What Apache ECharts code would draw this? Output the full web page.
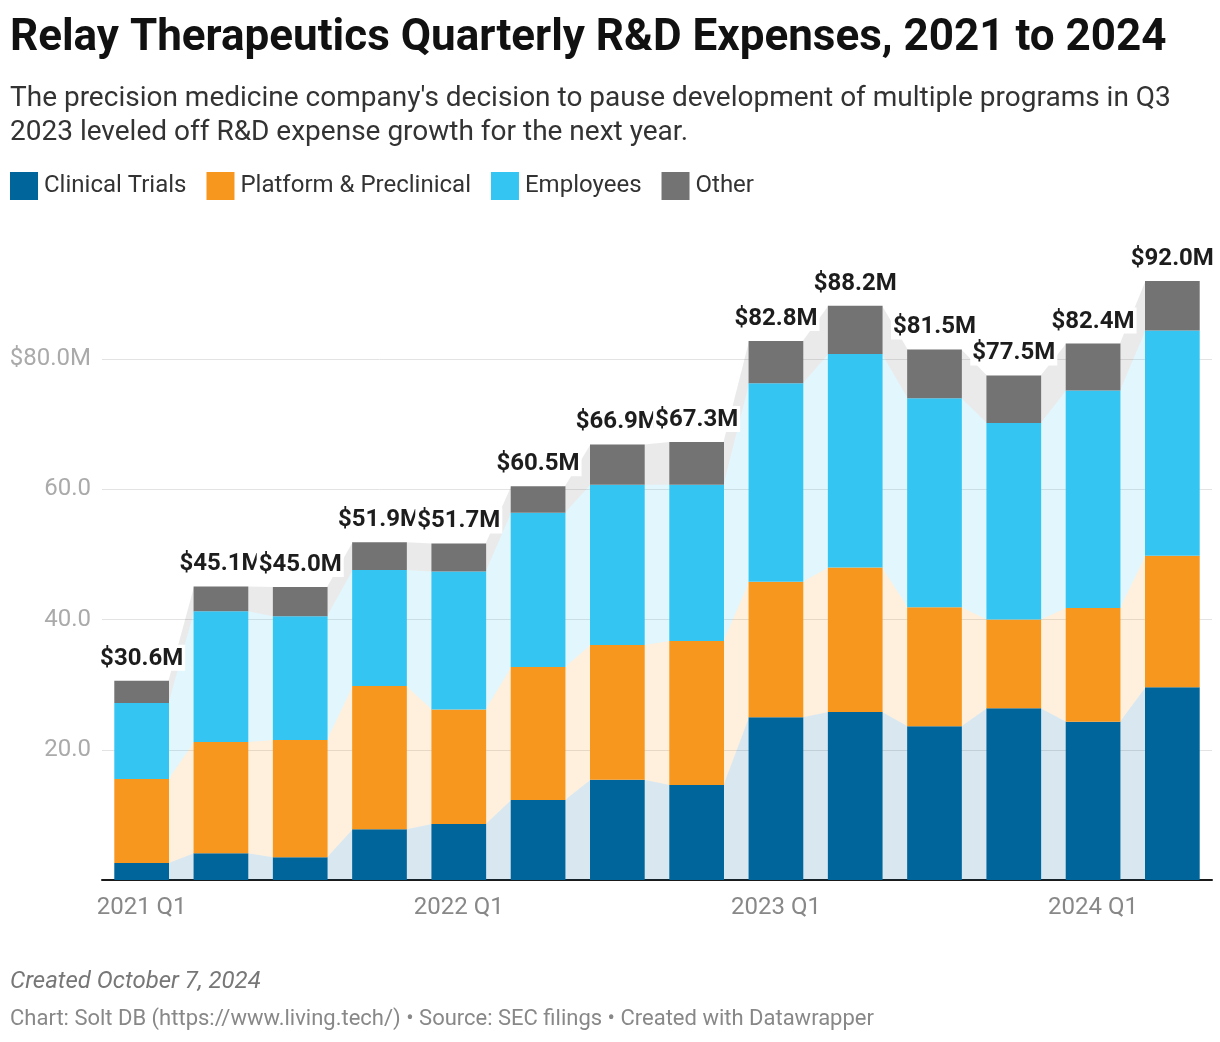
<!DOCTYPE html>
<html><head><meta charset="utf-8">
<script src="https://cdn.jsdelivr.net/npm/echarts@6/dist/echarts.min.js"></script>
<style>html,body{margin:0;padding:0;background:#fff}#c{width:1220px;height:1042px}</style>
</head><body><div id="c"></div>
<script>
// ---- Data (USD millions) ----
const quarters = ['2021 Q1','2021 Q2','2021 Q3','2021 Q4','2022 Q1','2022 Q2','2022 Q3','2022 Q4','2023 Q1','2023 Q2','2023 Q3','2023 Q4','2024 Q1','2024 Q2'];
const clinicalTrials = [2.6, 4.1, 3.5, 7.8, 8.6, 12.3, 15.4, 14.6, 25.0, 25.8, 23.6, 26.4, 24.3, 29.6];
const platformPreclinical = [12.9, 17.1, 18.0, 22.0, 17.6, 20.4, 20.7, 22.1, 20.8, 22.2, 18.3, 13.6, 17.5, 20.2];
const employees = [11.7, 20.1, 19.0, 17.8, 21.2, 23.7, 24.6, 24.0, 30.5, 32.8, 32.1, 30.2, 33.4, 34.6];
const other = [3.4, 3.8, 4.5, 4.3, 4.3, 4.1, 6.2, 6.6, 6.5, 7.4, 7.5, 7.3, 7.2, 7.6];
const seriesNames = ['Clinical Trials', 'Platform & Preclinical', 'Employees', 'Other'];
const yTicks = [0, 20, 40, 60, 80, 100];

const colors = ['#00659a', '#f7971e', '#34c5f3', '#737373'];
const layers = [clinicalTrials, platformPreclinical, employees, other];
const totals = quarters.map((q, i) => layers.reduce((s, l) => s + l[i], 0));
const BAR_RATIO = 0.69;

const chart = echarts.init(document.getElementById('c'), null, {renderer: 'canvas'});

const barSeries = seriesNames.map((name, k) => ({
  name: name,
  type: 'bar',
  stack: 'total',
  barWidth: (BAR_RATIO * 100) + '%',
  z: 3,
  itemStyle: {color: colors[k]},
  emphasis: {disabled: true},
  data: layers[k],
  label: k === layers.length - 1 ? {
    show: true,
    position: 'top',
    distance: 10,
    formatter: p => '$' + totals[p.dataIndex].toFixed(1) + 'M',
    fontFamily: 'Roboto',
    fontSize: 24,
    fontWeight: 'bold',
    color: '#1d1d1d',
    backgroundColor: '#ffffff',
    padding: [2, 2, 0, 2]
  } : {show: false}
}));

const bandSeries = {
  type: 'custom',
  name: 'bands',
  z: 1,
  silent: true,
  encode: {x: 0, y: 1},
  data: quarters.slice(0, -1).map((q, i) => [i, 0]),
  renderItem: function (params, api) {
    const i = api.value(0);
    const bw = api.size([1, 0])[0];
    const half = bw * BAR_RATIO / 2;
    const xa = api.coord([i, 0])[0] + half - 0.5;
    const xb = api.coord([i + 1, 0])[0] - half + 0.5;
    const children = [];
    let lo0 = 0, lo1 = 0;
    for (let s = 0; s < layers.length; s++) {
      const hi0 = lo0 + layers[s][i];
      const hi1 = lo1 + layers[s][i + 1];
      const y = v => api.coord([i, v])[1];
      children.push({
        type: 'polygon',
        shape: {points: [[xa, y(lo0)], [xa, y(hi0)], [xb, y(hi1)], [xb, y(lo1)]]},
        style: {fill: colors[s], opacity: 0.15}
      });
      lo0 = hi0; lo1 = hi1;
    }
    return {type: 'group', children: children};
  }
};

chart.setOption({
  animation: false,
  backgroundColor: '#ffffff',
  textStyle: {fontFamily: 'Roboto'},
  title: [{
    text: 'Relay Therapeutics Quarterly R&D Expenses, 2021 to 2024',
    left: 10, top: 13, padding: 0,
    textStyle: {fontFamily: 'Roboto', fontSize: 44, fontWeight: 'bold', color: '#111111', lineHeight: 52}
  }, {
    text: "The precision medicine company's decision to pause development of multiple programs in Q3\n2023 leveled off R&D expense growth for the next year.",
    left: 10, top: 82, padding: 0,
    textStyle: {fontFamily: 'Roboto', fontSize: 28, fontWeight: 'normal', color: '#333333', lineHeight: 34}
  }, {
    text: 'Created October 7, 2024',
    left: 10, top: 968, padding: 0,
    textStyle: {fontFamily: 'Roboto', fontSize: 24, fontStyle: 'italic', fontWeight: 'normal', color: '#777777', lineHeight: 28}
  }, {
    text: 'Chart: Solt DB (https://www.living.tech/) \u2022 Source: SEC filings \u2022 Created with Datawrapper',
    left: 10, top: 1006, padding: 0,
    textStyle: {fontFamily: 'Roboto', fontSize: 22, fontWeight: 'normal', color: '#888888', lineHeight: 26}
  }],
  legend: {
    data: seriesNames,
    left: 10, top: 172, padding: 0,
    icon: 'rect', itemWidth: 28, itemHeight: 28, itemGap: 20,
    selectedMode: false,
    textStyle: {fontFamily: 'Roboto', fontSize: 24, color: '#333333', padding: [0, 0, 0, 1]}
  },
  grid: {left: 102, right: 8, top: 229, bottom: 162, containLabel: false},
  xAxis: {
    type: 'category',
    data: quarters,
    boundaryGap: true,
    axisLine: {show: true, lineStyle: {color: '#1a1a1a', width: 2}},
    axisTick: {show: false},
    axisLabel: {
      interval: (idx) => idx % 4 === 0,
      fontFamily: 'Roboto', fontSize: 24, color: '#888888', margin: 16
    },
    splitLine: {show: false}
  },
  yAxis: {
    type: 'value',
    min: yTicks[0], max: yTicks[yTicks.length - 1], interval: 20,
    axisLine: {show: false},
    axisTick: {show: false},
    axisLabel: {
      fontFamily: 'Roboto', fontSize: 24, color: '#aaaaaa', margin: 11,
      formatter: v => (v === 0 || v === 100) ? '' : (v === 80 ? '$' + v.toFixed(1) + 'M' : v.toFixed(1))
    },
    splitLine: {show: true, lineStyle: {color: ['#e3e3e3', '#e3e3e3', '#e3e3e3', '#e3e3e3', '#e3e3e3', 'rgba(0,0,0,0)'], width: 1}}
  },
  series: [bandSeries].concat(barSeries)
});
</script>
</body></html>
